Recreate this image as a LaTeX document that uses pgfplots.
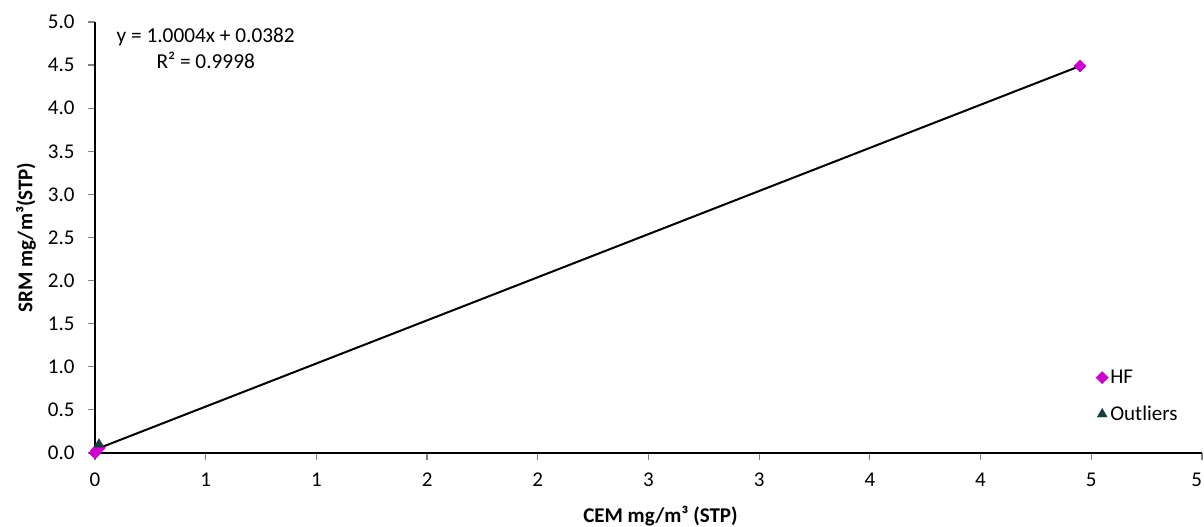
\documentclass[border=0pt]{standalone}
\usepackage{pgfplots}
\pgfplotsset{compat=1.18}
\usepackage{fontspec}
\setmainfont{Carlito}
\definecolor{hfcol}{RGB}{204,0,204}
\definecolor{outcol}{RGB}{23,60,66}
\begin{document}
\begin{tikzpicture}
\begin{axis}[
  at={(0pt,0pt)}, anchor=south west,
  scale only axis,
  width=1107pt, height=431pt,
  xmin=0, xmax=5, ymin=0, ymax=5,
  axis x line*=bottom, axis y line*=left,
  axis line style={black, line width=1.3pt, -},
  xtick={0,0.5,1,1.5,2,2.5,3,3.5,4,4.5,5},
  xticklabels={0,1,1,2,2,3,3,4,4,5,{5\hphantom{5}}},
  ytick={0,0.5,1,1.5,2,2.5,3,3.5,4,4.5,5},
  /pgf/number format/assume math mode=true,
  tick style={gray, line width=1.2pt},
  tick align=outside,
  major tick length=7pt,
  xticklabel style={font=\fontsize{21}{24}\selectfont, yshift=-9pt},
  yticklabel style={font=\fontsize{21}{24}\selectfont, xshift=-10pt,
    /pgf/number format/fixed, /pgf/number format/fixed zerofill, /pgf/number format/precision=1},
  xlabel={\bfseries CEM mg/m³ (STP)},
  ylabel={\bfseries SRM mg/m³(STP)},
  label style={font=\fontsize{21}{24}\selectfont},
  xlabel style={at={(axis description cs:0.5,0)}, anchor=center, xshift=12pt, yshift=-63pt},
  ylabel style={at={(axis description cs:0,0.5)}, anchor=center, yshift=69pt},
  clip=false,
  legend style={draw=none, fill=none, at={(0.9015,0.202)}, anchor=north west,
    font=\fontsize{21}{24}\selectfont, row sep=17pt, legend cell align=left},
]
\addplot[only marks, mark=square*, mark size=4.3pt, color=hfcol, mark options={fill=hfcol, draw=hfcol, rotate=45}]
  coordinates {(4.449,4.490) (0.0,0.0) (0.005,0.02) (0.012,0.045) (0.02,0.06)};
\addlegendentry{HF}
\addplot[only marks, mark=triangle*, mark size=5.7pt, color=outcol, mark options={fill=outcol, draw=outcol}]
  coordinates {(0.018,0.10)};
\addlegendentry{Outliers}
\addplot[black, line width=2pt, forget plot] coordinates {(0,0.0382) (4.449,4.4891)};
\node[align=center, font=\fontsize{21.3}{26}\selectfont] at (axis cs:0.50,4.693) {y = 1.0004x + 0.0382\\R² = 0.9998};
\end{axis}
\pgfresetboundingbox
\path[use as bounding box] (-95pt,-74pt) rectangle (1109pt,453pt);
\end{tikzpicture}
\end{document}
